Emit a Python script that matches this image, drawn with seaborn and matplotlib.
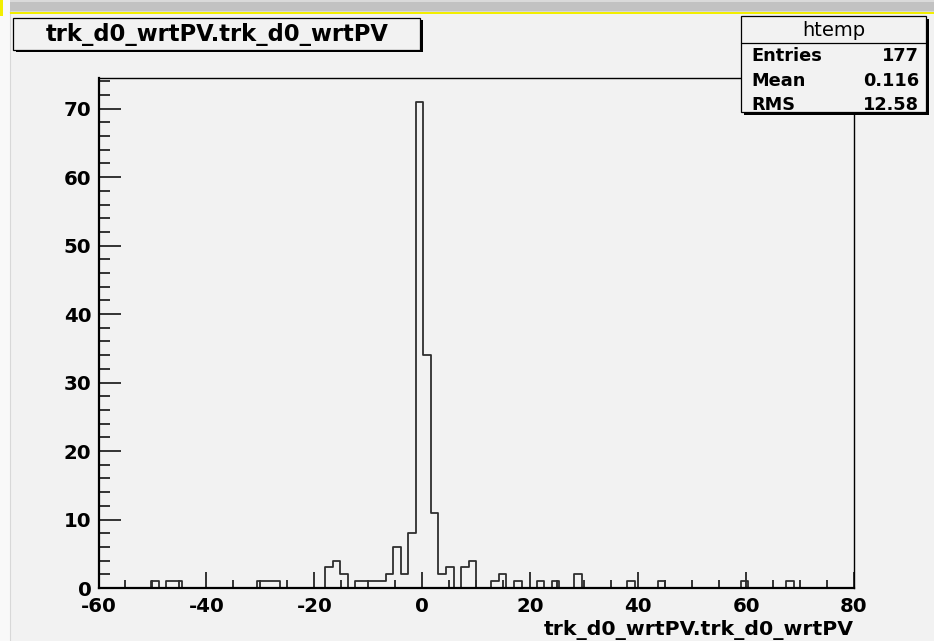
import numpy as np
import pandas as pd
import matplotlib
matplotlib.use("Agg")
import matplotlib.pyplot as plt
from matplotlib.patches import Rectangle
from matplotlib.lines import Line2D
from matplotlib.ticker import MultipleLocator
import seaborn as sns

# ---------------- data ----------------
x_min, x_max, n_bins = -60.0, 80.0, 100
counts = [
    0, 0, 0, 0, 0, 0, 0, 1, 0, 1,
    1, 0, 0, 0, 0, 0, 0, 0, 0, 0,
    0, 1, 1, 1, 0, 0, 0, 0, 0, 0,
    3, 4, 2, 0, 1, 1, 1, 1, 2, 6,
    2, 8, 71, 34, 11, 2, 3, 0, 3, 4,
    0, 0, 1, 2, 0, 1, 0, 0, 1, 0,
    1, 0, 0, 2, 0, 0, 0, 0, 0, 0,
    1, 0, 0, 0, 1, 0, 0, 0, 0, 0,
    0, 0, 0, 0, 0, 1, 0, 0, 0, 0,
    0, 1, 0, 0, 0, 0, 0, 0, 0, 0,
]
x_ticks = [-60, -40, -20, 0, 20, 40, 60, 80]
x_tick_labels = ["-60", "-40", "-20", "0", "20", "40", "60", "80"]
y_ticks = [0, 10, 20, 30, 40, 50, 60, 70]
y_tick_labels = ["0", "10", "20", "30", "40", "50", "60", "70"]
title = "trk_d0_wrtPV.trk_d0_wrtPV"
x_title = "trk_d0_wrtPV.trk_d0_wrtPV"
stats_name = "htemp"
stats_labels = ["Entries", "Mean", "RMS"]
stats_values = ["177", "0.116", "12.58"]

bin_width = (x_max - x_min) / n_bins
edges = np.linspace(x_min, x_max, n_bins + 1)
centers = 0.5 * (edges[:-1] + edges[1:])
df = pd.DataFrame({"x": centers, "w": counts})

# ---------------- style ----------------
BG = "#f2f2f2"
sns.set_style("ticks")
plt.rcParams["font.family"] = ["DejaVu Sans"]
plt.rcParams["axes.unicode_minus"] = False
plt.rcParams["text.color"] = "black"

W, H = 934, 641
def fx(p):
    return p / W
def fy(p):
    return 1 - p / H

fig = plt.figure(figsize=(W / 100, H / 100), dpi=100, facecolor=BG)
ax_l, ax_r, ax_t, ax_b = 98.5, 854.0, 77.5, 588.0
ax = fig.add_axes([fx(ax_l), fy(ax_b), (ax_r - ax_l) / W, (ax_b - ax_t) / H])
ax.set_facecolor(BG)

sns.histplot(data=df, x="x", weights="w", binwidth=bin_width,
             binrange=(x_min, x_max), element="step",
             fill=False, color="#2e2e2e", linewidth=1.3, ax=ax)

ax.set_xlim(x_min, x_max)
ax.set_ylim(0, max(counts) * 1.05)
ax.set_xlabel("")
ax.set_ylabel("")

LBL = 14.2
ax.set_xticks(x_ticks)
ax.set_xticklabels(x_tick_labels, fontsize=LBL, fontweight="bold", color="black")
ax.set_yticks(y_ticks)
ax.set_yticklabels(y_tick_labels, fontsize=LBL, fontweight="bold", color="black")
ax.xaxis.set_minor_locator(MultipleLocator(5))
ax.yaxis.set_minor_locator(MultipleLocator(2))
ax.tick_params(axis="x", which="major", direction="in", length=11.5, width=1.1,
               pad=6.8, bottom=True, top=False, color="black", labelcolor="black")
ax.tick_params(axis="x", which="minor", direction="in", length=5.8, width=1.1,
               bottom=True, top=False, color="black")
ax.tick_params(axis="y", which="major", direction="in", length=15.8, width=1.1,
               pad=5, left=True, right=False, color="black", labelcolor="black")
ax.tick_params(axis="y", which="minor", direction="in", length=8, width=1.1,
               left=True, right=False, color="black")
for s in ["left", "bottom"]:
    ax.spines[s].set_linewidth(1.6)
    ax.spines[s].set_color("black")
for s in ["top", "right"]:
    ax.spines[s].set_linewidth(1.0)
    ax.spines[s].set_color("black")
    ax.spines[s].set_visible(True)

# x axis title
fig.text(fx(854), fy(630), x_title, ha="right", va="center",
         fontsize=14.7, fontweight="bold", color="black")

# ---------------- window decoration ----------------
fig.add_artist(Rectangle((0, 0), fx(10), 1, transform=fig.transFigure,
                         facecolor="#f9f9f9", edgecolor="none", zorder=19))
fig.add_artist(Line2D([fx(10), fx(10)], [0, fy(11)], transform=fig.transFigure,
                      color="#d8d8d8", linewidth=0.8, zorder=19))
fig.add_artist(Rectangle((fx(10), fy(10.5)), 1, 10.5 / H, transform=fig.transFigure,
                         facecolor="#c2c2c2", edgecolor="none", zorder=20))
fig.add_artist(Rectangle((fx(10), fy(1.5)), 1, 1.5 / H, transform=fig.transFigure,
                         facecolor="#dadada", edgecolor="none", zorder=21))
fig.add_artist(Line2D([fx(10), 1], [fy(11.5), fy(11.5)], transform=fig.transFigure,
                      color="#222222", linewidth=0.9, zorder=21))
fig.add_artist(Rectangle((fx(10), fy(14)), 1, 2.2 / H, transform=fig.transFigure,
                         facecolor="#f2ee00", edgecolor="none", zorder=21))
fig.add_artist(Rectangle((0, fy(16)), 2.5 / W, 16 / H, transform=fig.transFigure,
                         facecolor="#f2ee00", edgecolor="none", zorder=22))

def shadow_box(x0, y0, x1, y1, sh=2.5, z=30):
    fig.add_artist(Rectangle((fx(x0 + sh), fy(y1 + sh)), (x1 - x0) / W, (y1 - y0) / H,
                             transform=fig.transFigure, facecolor="black",
                             edgecolor="none", zorder=z))
    fig.add_artist(Rectangle((fx(x0), fy(y1)), (x1 - x0) / W, (y1 - y0) / H,
                             transform=fig.transFigure, facecolor=BG,
                             edgecolor="black", linewidth=0.9, zorder=z + 1))

# title box
shadow_box(13, 18, 420, 49.5)
fig.text(fx(217), fy(40.7), title, ha="center", va="baseline", fontsize=16.3,
         fontweight="bold", color="black", zorder=40)

# stats box
sx0, sy0, sx1, sy1 = 741, 16, 926, 112
shadow_box(sx0, sy0, sx1, sy1)
fig.add_artist(Line2D([fx(sx0), fx(sx1)], [fy(43), fy(43)], transform=fig.transFigure,
                      color="black", linewidth=0.9, zorder=35))
fig.text(fx((sx0 + sx1) / 2), fy(30), stats_name, ha="center", va="center",
         fontsize=14, color="black", zorder=40)
row_y = [56, 81, 105]
for lab, val, yy in zip(stats_labels, stats_values, row_y):
    fig.text(fx(751), fy(yy), lab, ha="left", va="center", fontsize=12.8,
             fontweight="bold", color="black", zorder=40)
    fig.text(fx(919), fy(yy), val, ha="right", va="center", fontsize=12.8,
             fontweight="bold", color="black", zorder=40)

fig.savefig("out.png", dpi=100, facecolor=BG)
